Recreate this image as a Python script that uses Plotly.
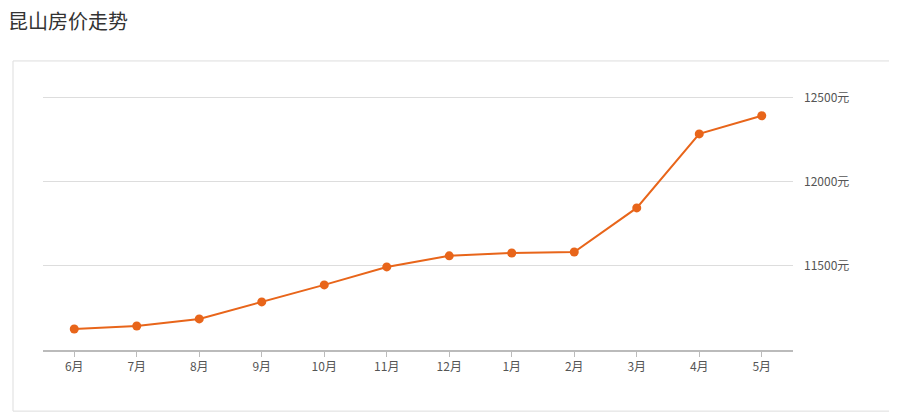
import plotly.graph_objects as go

months = ["6月","7月","8月","9月","10月","11月","12月","1月","2月","3月","4月","5月"]
prices = [11125, 11143, 11185, 11286, 11387, 11494, 11560, 11577, 11583, 11845, 12285, 12393]
yticks = [11500, 12000, 12500]
ylabels = ["11500元", "12000元", "12500元"]

fig = go.Figure(go.Scatter(x=months, y=prices, mode="lines+markers",
    line=dict(color="#e8651a", width=2), marker=dict(color="#e8651a", size=9)))

fig.update_layout(
    width=897, height=412, margin=dict(l=35, r=112, t=83, b=70),
    plot_bgcolor="white", paper_bgcolor="white", showlegend=False,
    font=dict(family="Noto Sans CJK SC", color="#555", size=12),
    title=dict(text="昆山房价走势", x=0.0, y=0.965, xanchor="left", yanchor="middle",
               font=dict(size=20, color="#333")),
    xaxis=dict(type="category", range=[-0.5, 11.5], showline=True, linecolor="#bbb",
               linewidth=2, ticks="outside", tickcolor="#bbb", ticklen=5, showgrid=False),
    yaxis=dict(side="right", range=[11000, 12540], tickvals=yticks, ticktext=ylabels,
               gridcolor="#ddd", zeroline=False, showline=False, ticklabelstandoff=10),
    shapes=[dict(type="rect", xref="paper", yref="paper", x0=-0.04, x1=1.16,
                 y0=-0.236, y1=1.116, line=dict(color="#ddd", width=1), layer="below")],
)
fig.write_html("out.html")
